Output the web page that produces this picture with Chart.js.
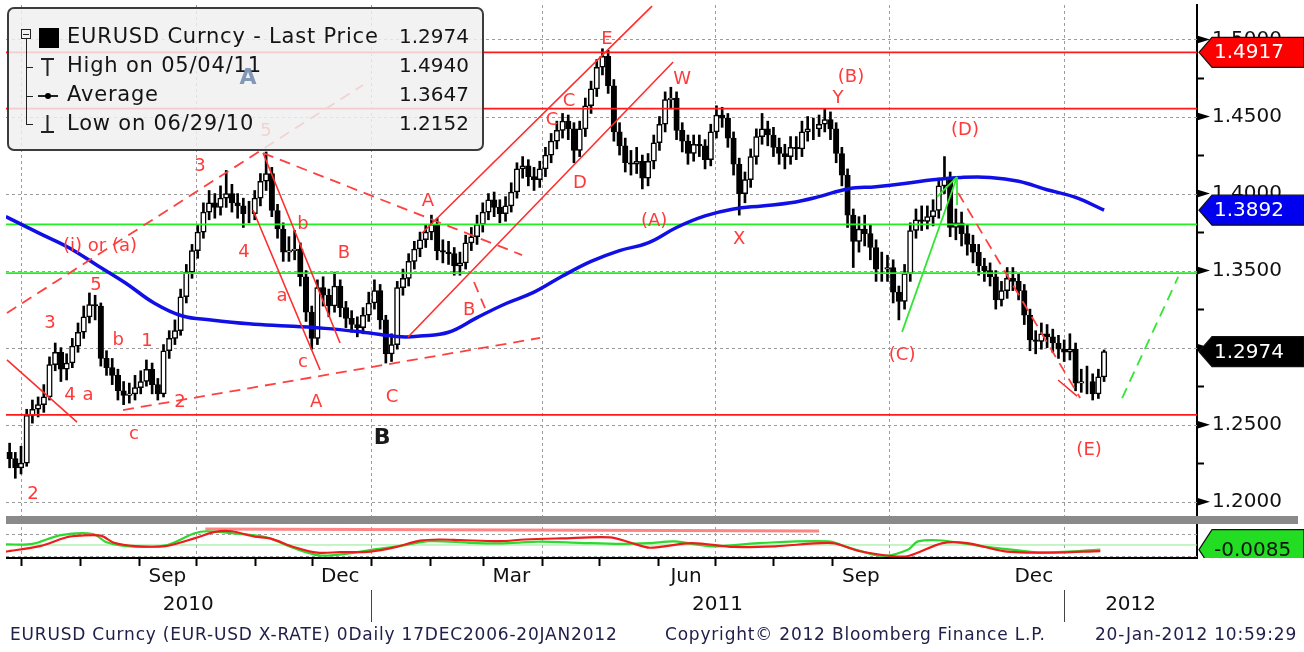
<!DOCTYPE html>
<html>
<head>
<meta charset="utf-8">
<script src="https://cdn.jsdelivr.net/npm/chart.js@4/dist/chart.umd.min.js"></script>
<style>
  html, body { margin: 0; padding: 0; background: #fff; }
  canvas { display: block; }
</style>
</head>
<body>
<canvas id="chart" width="1304" height="652"></canvas>
<script>
// EURUSD daily, one bar every 3 days
const firstBarDate = '2010-06-25';
const barStepDays = 3;
const firstOpen = 1.232;
const closes = [
  1.228, 1.222, 1.225, 1.256, 1.260, 1.263, 1.268, 1.289, 1.297, 1.286,
  1.290, 1.301, 1.310, 1.320, 1.328, 1.327, 1.293, 1.287, 1.282, 1.272,
  1.269, 1.270, 1.274, 1.278, 1.286, 1.276, 1.270, 1.298, 1.306, 1.311,
  1.333, 1.349, 1.363, 1.375, 1.388, 1.394, 1.391, 1.397, 1.400, 1.394,
  1.392, 1.387, 1.387, 1.397, 1.408, 1.413, 1.389, 1.377, 1.362, 1.363,
  1.364, 1.346, 1.323, 1.306, 1.339, 1.334, 1.327, 1.340, 1.326, 1.319,
  1.315, 1.313, 1.321, 1.329, 1.337, 1.318, 1.296, 1.302, 1.339, 1.345,
  1.356, 1.364, 1.370, 1.375, 1.380, 1.363, 1.362, 1.361, 1.353, 1.355,
  1.368, 1.372, 1.380, 1.388, 1.396, 1.391, 1.387, 1.392, 1.401, 1.416,
  1.418, 1.411, 1.409, 1.416, 1.425, 1.434, 1.441, 1.447, 1.442, 1.428,
  1.442, 1.457, 1.468, 1.482, 1.489, 1.470, 1.440, 1.431, 1.420, 1.419,
  1.421, 1.410, 1.421, 1.433, 1.445, 1.461, 1.462, 1.441, 1.434, 1.426,
  1.432, 1.431, 1.422, 1.440, 1.451, 1.449, 1.436, 1.419, 1.400, 1.409,
  1.424, 1.437, 1.442, 1.438, 1.430, 1.426, 1.424, 1.430, 1.429, 1.440,
  1.442, 1.442, 1.445, 1.448, 1.442, 1.426, 1.412, 1.386, 1.369, 1.377,
  1.374, 1.365, 1.351, 1.351, 1.352, 1.336, 1.330, 1.348, 1.376, 1.383,
  1.382, 1.385, 1.389, 1.405, 1.410, 1.378, 1.381, 1.374, 1.367, 1.362,
  1.353, 1.350, 1.346, 1.331, 1.337, 1.345, 1.343, 1.337, 1.321, 1.305,
  1.304, 1.309, 1.307, 1.303, 1.299, 1.297, 1.299, 1.277, 1.278, 1.278,
  1.270, 1.281, 1.2974
];
const highs = [
  1.238, 1.232, 1.236, 1.260, 1.266, 1.268, 1.276, 1.294, 1.303, 1.300,
  1.296, 1.306, 1.316, 1.327, 1.3355, 1.334, 1.329, 1.298, 1.293, 1.286,
  1.278, 1.277, 1.282, 1.285, 1.292, 1.290, 1.280, 1.302, 1.311, 1.318,
  1.338, 1.354, 1.367, 1.380, 1.394, 1.402, 1.400, 1.405, 1.415, 1.406,
  1.400, 1.397, 1.395, 1.402, 1.413, 1.427, 1.417, 1.393, 1.381, 1.372,
  1.376, 1.368, 1.350, 1.327, 1.344, 1.346, 1.338, 1.349, 1.344, 1.330,
  1.324, 1.320, 1.326, 1.336, 1.344, 1.341, 1.321, 1.309, 1.343, 1.351,
  1.361, 1.369, 1.375, 1.380, 1.386, 1.384, 1.370, 1.369, 1.365, 1.362,
  1.373, 1.378, 1.386, 1.394, 1.400, 1.401, 1.396, 1.398, 1.407, 1.420,
  1.424, 1.422, 1.417, 1.421, 1.430, 1.439, 1.447, 1.452, 1.451, 1.446,
  1.447, 1.462, 1.473, 1.487, 1.494, 1.493, 1.474, 1.446, 1.436, 1.428,
  1.430, 1.425, 1.426, 1.438, 1.450, 1.466, 1.469, 1.466, 1.446, 1.438,
  1.438, 1.438, 1.435, 1.445, 1.457, 1.456, 1.452, 1.440, 1.423, 1.414,
  1.429, 1.442, 1.452, 1.447, 1.443, 1.436, 1.432, 1.437, 1.437, 1.447,
  1.450, 1.449, 1.451, 1.455, 1.453, 1.446, 1.430, 1.416, 1.390, 1.385,
  1.386, 1.380, 1.370, 1.362, 1.360, 1.357, 1.340, 1.354, 1.381, 1.390,
  1.392, 1.392, 1.396, 1.410, 1.424, 1.414, 1.390, 1.388, 1.380, 1.373,
  1.367, 1.358, 1.355, 1.350, 1.343, 1.352, 1.352, 1.348, 1.341, 1.325,
  1.311, 1.316, 1.315, 1.312, 1.308, 1.305, 1.309, 1.303, 1.286, 1.288,
  1.283, 1.286, 1.2985
];
const lows = [
  1.222, 1.2152, 1.218, 1.223, 1.251, 1.255, 1.258, 1.266, 1.285, 1.278,
  1.279, 1.287, 1.297, 1.306, 1.316, 1.318, 1.288, 1.282, 1.276, 1.266,
  1.263, 1.264, 1.266, 1.270, 1.275, 1.270, 1.266, 1.268, 1.293, 1.302,
  1.308, 1.329, 1.345, 1.358, 1.371, 1.383, 1.384, 1.386, 1.391, 1.388,
  1.384, 1.378, 1.381, 1.383, 1.392, 1.402, 1.385, 1.371, 1.356, 1.356,
  1.357, 1.340, 1.317, 1.299, 1.302, 1.327, 1.320, 1.323, 1.320, 1.313,
  1.310, 1.307, 1.309, 1.317, 1.325, 1.312, 1.290, 1.291, 1.299, 1.334,
  1.340, 1.351, 1.359, 1.365, 1.370, 1.357, 1.355, 1.354, 1.347, 1.347,
  1.351, 1.363, 1.367, 1.375, 1.383, 1.385, 1.381, 1.382, 1.388, 1.397,
  1.410, 1.405, 1.402, 1.404, 1.411, 1.420, 1.429, 1.436, 1.435, 1.420,
  1.424, 1.437, 1.452, 1.463, 1.477, 1.465, 1.434, 1.425, 1.414, 1.412,
  1.413, 1.403, 1.405, 1.416, 1.428, 1.440, 1.455, 1.435, 1.427, 1.419,
  1.421, 1.424, 1.416, 1.418, 1.436, 1.443, 1.430, 1.412, 1.386, 1.394,
  1.404, 1.419, 1.432, 1.431, 1.424, 1.419, 1.416, 1.419, 1.422, 1.424,
  1.434, 1.435, 1.437, 1.440, 1.435, 1.420, 1.405, 1.378, 1.352, 1.362,
  1.366, 1.357, 1.343, 1.343, 1.343, 1.329, 1.318, 1.325, 1.343, 1.371,
  1.376, 1.377, 1.379, 1.384, 1.400, 1.372, 1.370, 1.366, 1.360, 1.355,
  1.347, 1.343, 1.340, 1.325, 1.327, 1.332, 1.337, 1.331, 1.315, 1.298,
  1.296, 1.299, 1.300, 1.297, 1.293, 1.291, 1.292, 1.272, 1.271, 1.270,
  1.266, 1.267, 1.278
];

// moving average (blue), days since 1 Jul 2010
const maDays = [-8, 10, 25, 40, 55, 70, 85, 100, 120, 140, 160, 180, 200, 210, 225, 240, 255, 270, 285,
  300, 315, 330, 345, 360, 375, 390, 405, 420, 435, 450, 465, 480, 495, 510, 525, 540, 555, 570];
const maVals = [1.385, 1.374, 1.365, 1.3535, 1.342, 1.329, 1.3205, 1.318, 1.3155, 1.314, 1.3125, 1.310, 1.307,
  1.3075, 1.310, 1.3195, 1.3285, 1.336, 1.3465, 1.356, 1.363, 1.368, 1.378, 1.3855, 1.390, 1.392, 1.394,
  1.398, 1.403, 1.4045, 1.4065, 1.409, 1.4105, 1.4105, 1.408, 1.4025, 1.3975, 1.3892];

// lower study panel
const indRedDays = [-8, 10, 24, 31, 42, 49, 60, 76, 92, 102, 111, 123, 131, 144, 156, 168, 184, 197, 210, 221,
  231, 252, 265, 284, 310, 321, 331, 353, 375, 397, 427, 441, 458, 467, 485, 498, 517, 539, 568];
const indRed = [-0.012, -0.002, 0.014, 0.017, 0.017, 0.004, -0.002, -0.002, 0.013, 0.024, 0.025, 0.015, 0.012,
  -0.004, -0.014, -0.013, -0.012, -0.004, 0.008, 0.010, 0.009, 0.007, 0.010, 0.012, 0.014, 0.004, -0.005,
  0.0035, -0.0035, -0.0024, 0.0035, -0.011, -0.020, -0.020, 0.0035, 0.0035, -0.011, -0.014, -0.011];
const indGreenDays = [-8, 6, 21, 38, 45, 59, 77, 91, 98, 112, 129, 143, 157, 171, 186, 199, 215, 236, 252, 273,
  294, 315, 331, 344, 364, 388, 425, 436, 454, 467, 472, 485, 506, 528, 537, 568];
const indGreen = [0.001, 0.002, 0.018, 0.020, 0.005, -0.003, 0.000, 0.021, 0.025, 0.021, 0.014, -0.005, -0.019,
  -0.016, -0.008, -0.002, 0.007, 0.004, 0.003, 0.006, 0.004, 0.002, 0.0035, 0.0065, -0.0024, 0.0035, 0.0065,
  -0.0053, -0.020, -0.008, 0.0065, 0.0082, -0.0024, -0.011, -0.014, -0.0085];
const indTrendDays = [97, 420];
const indTrendVals = [0.029, 0.0255];
const indGuides = [0.02, -0.02];

const redLevels = [1.4917, 1.4551, 1.2563];
const greenLevels = [1.3800, 1.3483];
const yTicks = [1.20, 1.25, 1.30, 1.35, 1.40, 1.45, 1.50];

const quarterDates = ['2010-07-01', '2010-10-01', '2011-01-01', '2011-04-01', '2011-07-01', '2011-10-01', '2012-01-01'];
const monthLabels = ['Sep', 'Dec', 'Mar', 'Jun', 'Sep', 'Dec'];
const monthLabelDates = ['2010-09-16', '2010-12-16', '2011-03-16', '2011-06-16', '2011-09-16', '2011-12-16'];
const yearLabels = ['2010', '2011', '2012'];
const yearStarts = ['2011-01-01', '2012-01-01'];

const legendRows = [
  ['EURUSD Curncy - Last Price', '1.2974'],
  ['High on 05/04/11', '1.4940'],
  ['Average', '1.3647'],
  ['Low on 06/29/10', '1.2152']
];

// hand drawn wave count: [day1, price1, day2, price2]
const solidRed = [[-7.4, 1.2920, 29.5, 1.2517], [127.4, 1.4263, 167.9, 1.3030], [122.1, 1.3893, 157.4, 1.2855],
  [211.1, 1.3744, 332.1, 1.5217], [203.7, 1.3069, 343.2, 1.4854], [545.8, 1.2790, 555.8, 1.2686]];
const dashedRed = [[-7.4, 1.3225, 180, 1.4705], [127.4, 1.4263, 263.7, 1.3601], [53.7, 1.2595, 273.2, 1.3063],
  [238.4, 1.3426, 244.2, 1.3257], [493.2, 1.4004, 557.4, 1.2673]];
const solidGreen = [[463.7, 1.3102, 492.6, 1.4108], [482.1, 1.3978, 492.6, 1.4108], [492.6, 1.4108, 492.6, 1.3926]];
const dashedGreen = [[579.5, 1.2673, 609, 1.3459]];
const waveLabels = [
  ['2', 6.3, 1.2050], ['3', 15.3, 1.3160], ['4', 25.8, 1.2693], ['a', 35.3, 1.2693], ['5', 39.5, 1.3407],
  ['b', 51.1, 1.3050], ['1', 66.3, 1.3043], ['c', 59.5, 1.2439], ['2', 83.7, 1.2647], ['(i) or (a)', 41.6, 1.3660],
  ['3', 94.2, 1.4179], ['4', 117.4, 1.3621], ['5', 128.9, 1.4406], ['b', 148.4, 1.3802], ['a', 137.4, 1.3335],
  ['c', 148.4, 1.2907], ['B', 170, 1.3614], ['A', 155.3, 1.2647], ['C', 195.3, 1.2680], ['A', 214.2, 1.3952],
  ['B', 235.8, 1.3244], ['C', 279.5, 1.4478], ['C', 288.4, 1.4601], ['D', 294.2, 1.4069], ['E', 308.4, 1.5003],
  ['W', 347.9, 1.4744], ['(A)', 333.2, 1.3822], ['X', 377.9, 1.3705], ['(B)', 436.8, 1.4757], ['Y', 430, 1.4620],
  ['(D)', 496.8, 1.4413], ['(C)', 463.7, 1.2952], ['(E)', 562.1, 1.2336]
];
const bigLabel = ['B', 190, 1.2413];
const ghostLabel = ['A', 119.5, 1.4750];

const F = '"DejaVu Sans", sans-serif';
const DAY0 = Date.UTC(2010, 6, 1);
const dayOf = s => { const [yy, mm, dd] = s.split('-').map(Number); return (Date.UTC(yy, mm - 1, dd) - DAY0) / 864e5; };
const X_MIN = -7.9, X_MAX = 618.9;

const startDay = dayOf(firstBarDate);
const barDays = closes.map((_, i) => startDay + i * barStepDays);
const opens = closes.map((c, i) => (i ? closes[i - 1] : firstOpen));
const wickData = closes.map((_, i) => ({ x: barDays[i], y: [lows[i], highs[i]] }));
const bodyData = closes.map((c, i) => ({ x: barDays[i], y: [Math.min(opens[i], c), Math.max(opens[i], c)] }));
const bodyFill = closes.map((c, i) => (c < opens[i] ? '#000' : '#fff'));
const pts = (xs, ys) => xs.map((d, i) => ({ x: d, y: ys[i] }));
const hline = (v, color, w, axis) => ({
  type: 'line', data: [{ x: X_MIN, y: v }, { x: X_MAX, y: v }], borderColor: color, borderWidth: w,
  pointRadius: 0, yAxisID: axis, order: 3
});
const fixAxis = s => { s.width = 107; s.paddingTop = 0; s.paddingBottom = 0; };

function tag(ctx, y, fill, color, text, h) {
  ctx.beginPath();
  ctx.moveTo(1199, y); ctx.lineTo(1212, y - h / 2); ctx.lineTo(1304, y - h / 2);
  ctx.lineTo(1304, y + h / 2); ctx.lineTo(1212, y + h / 2); ctx.closePath();
  ctx.fillStyle = fill; ctx.fill();
  ctx.strokeStyle = '#111'; ctx.lineWidth = 1.2; ctx.stroke();
  ctx.fillStyle = color; ctx.font = '20px ' + F; ctx.textAlign = 'left'; ctx.textBaseline = 'middle';
  ctx.fillText(text, 1214, y + 1);
}

function drawLegend(ctx) {
  ctx.save();
  ctx.beginPath(); ctx.roundRect(8, 8, 475, 142, 6);
  ctx.fillStyle = 'rgba(240,240,240,0.84)'; ctx.fill();
  ctx.lineWidth = 2; ctx.strokeStyle = '#3c3c3c'; ctx.stroke();
  ctx.strokeStyle = '#222'; ctx.lineWidth = 1;
  ctx.strokeRect(21.5, 29.5, 9, 9);
  ctx.beginPath();
  ctx.moveTo(23, 34.5); ctx.lineTo(29, 34.5);
  ctx.moveTo(26.5, 39); ctx.lineTo(26.5, 124);
  [67, 96, 124].forEach(r => { ctx.moveTo(26, r + 0.5); ctx.lineTo(33, r + 0.5); });
  ctx.stroke();
  ctx.fillStyle = '#000'; ctx.fillRect(39, 28, 20, 20);
  ctx.lineWidth = 2; ctx.beginPath();
  ctx.moveTo(41, 59); ctx.lineTo(54, 59); ctx.moveTo(47.5, 59); ctx.lineTo(47.5, 76);
  ctx.moveTo(38, 96); ctx.lineTo(58, 96);
  ctx.moveTo(47.5, 115); ctx.lineTo(47.5, 132); ctx.moveTo(41, 132); ctx.lineTo(54, 132);
  ctx.stroke();
  ctx.beginPath(); ctx.arc(48, 96, 3, 0, 2 * Math.PI); ctx.fill();
  ctx.fillStyle = '#141414'; ctx.textBaseline = 'middle';
  legendRows.forEach(([t, v], i) => {
    const yy = 38 + i * 29;
    ctx.letterSpacing = '0.8px';
    ctx.font = '21px ' + F; ctx.textAlign = 'left'; ctx.fillText(t, 67, yy);
    ctx.letterSpacing = '0px';
    ctx.font = '20px ' + F; ctx.textAlign = 'right'; ctx.fillText(v, 469, yy);
  });
  ctx.restore();
}

const bloomberg = {
  id: 'bloomberg',
  beforeDatasetsDraw(chart) {
    const { ctx, chartArea: a, scales: { x, y, y2 } } = chart;
    ctx.save();
    ctx.strokeStyle = '#9b9b9b'; ctx.lineWidth = 1; ctx.setLineDash([3, 3]);
    ctx.beginPath();
    yTicks.forEach(v => { const yy = Math.round(y.getPixelForValue(v)) + 0.5; ctx.moveTo(a.left, yy); ctx.lineTo(a.right, yy); });
    indGuides.forEach(v => { const yy = Math.round(y2.getPixelForValue(v)) + 0.5; ctx.moveTo(a.left, yy); ctx.lineTo(a.right, yy); });
    quarterDates.forEach(s => { const xx = Math.round(x.getPixelForValue(dayOf(s))) + 0.5; ctx.moveTo(xx, a.top); ctx.lineTo(xx, a.bottom); });
    ctx.stroke();
    ctx.restore();
  },
  afterDatasetsDraw(chart) {
    const { ctx, chartArea: a, scales: { x, y } } = chart;
    ctx.save();
    ctx.beginPath(); ctx.rect(a.left, a.top, a.right - a.left, y.bottom - 8 - a.top); ctx.clip();
    const seg = (list, color, dash, w) => {
      ctx.strokeStyle = color; ctx.lineWidth = w; ctx.setLineDash(dash);
      ctx.beginPath();
      list.forEach(([d1, p1, d2, p2]) => {
        ctx.moveTo(x.getPixelForValue(d1), y.getPixelForValue(p1));
        ctx.lineTo(x.getPixelForValue(d2), y.getPixelForValue(p2));
      });
      ctx.stroke();
    };
    seg(solidRed, '#ff2e2e', [], 1.6);
    seg(dashedRed, '#ff4040', [11, 7], 1.8);
    seg(solidGreen, '#33e633', [], 1.8);
    seg(dashedGreen, '#33e633', [11, 7], 1.8);
    ctx.setLineDash([]);
    ctx.textAlign = 'center'; ctx.textBaseline = 'middle';
    ctx.font = '18px ' + F; ctx.fillStyle = '#ff3a3a';
    waveLabels.forEach(([t, d, p]) => ctx.fillText(t, x.getPixelForValue(d), y.getPixelForValue(p)));
    ctx.font = 'bold 22px ' + F; ctx.fillStyle = '#1a1a1a';
    ctx.fillText(bigLabel[0], x.getPixelForValue(bigLabel[1]), y.getPixelForValue(bigLabel[2]));
    ctx.restore();

    drawLegend(ctx);

    ctx.save();
    ctx.font = 'bold 22px ' + F; ctx.fillStyle = 'rgba(110,135,170,0.85)';
    ctx.textAlign = 'center'; ctx.textBaseline = 'middle';
    ctx.fillText(ghostLabel[0], x.getPixelForValue(ghostLabel[1]), y.getPixelForValue(ghostLabel[2]));
    // panel separator
    ctx.fillStyle = '#8a8a8a';
    ctx.fillRect(a.left, y.bottom - 8, 1298 - a.left, 8);
    ctx.restore();
  },
  afterDraw(chart) {
    const { ctx, chartArea: a, scales: { x, y, y2 } } = chart;
    ctx.save();
    // right axis marks
    ctx.fillStyle = '#000'; ctx.strokeStyle = '#000'; ctx.lineWidth = 2;
    yTicks.forEach((v, i) => {
      const yy = y.getPixelForValue(v);
      ctx.beginPath(); ctx.moveTo(a.right, yy - 4); ctx.lineTo(a.right + 13, yy); ctx.lineTo(a.right, yy + 4); ctx.closePath(); ctx.fill();
      if (i < yTicks.length - 1) {
        const ym = Math.round(y.getPixelForValue((v + yTicks[i + 1]) / 2)) + 0.5;
        ctx.beginPath(); ctx.moveTo(a.right, ym); ctx.lineTo(a.right + 7, ym); ctx.stroke();
      }
    });
    // time axis
    ctx.beginPath(); ctx.moveTo(a.left, a.bottom); ctx.lineTo(a.right, a.bottom); ctx.stroke();
    ctx.beginPath();
    for (let m = 6; m <= 20; m++) {
      const d = (Date.UTC(2010, m, 1) - DAY0) / 864e5;
      const xx = Math.round(x.getPixelForValue(d)) + 0.5;
      if (xx >= a.left && xx <= a.right) { ctx.moveTo(xx, a.bottom); ctx.lineTo(xx, a.bottom + 8); }
    }
    ctx.stroke();
    ctx.fillStyle = '#111'; ctx.font = '20px ' + F; ctx.textAlign = 'center'; ctx.textBaseline = 'middle';
    monthLabels.forEach((t, i) => ctx.fillText(t, x.getPixelForValue(dayOf(monthLabelDates[i])), 577));
    const bounds = [a.left, ...yearStarts.map(s => x.getPixelForValue(dayOf(s))), a.right];
    yearLabels.forEach((t, i) => ctx.fillText(t, (bounds[i] + bounds[i + 1]) / 2, 605));
    ctx.strokeStyle = '#444'; ctx.lineWidth = 1;
    ctx.beginPath();
    yearStarts.forEach(s => { const xx = Math.round(x.getPixelForValue(dayOf(s))) + 0.5; ctx.moveTo(xx, 590); ctx.lineTo(xx, 622); });
    ctx.stroke();
    // last value tags
    tag(ctx, y.getPixelForValue(redLevels[0]), '#ff0000', '#fff', redLevels[0].toFixed(4), 30);
    tag(ctx, y.getPixelForValue(maVals[maVals.length - 1]), '#0000ee', '#fff', maVals[maVals.length - 1].toFixed(4), 30);
    tag(ctx, y.getPixelForValue(closes[closes.length - 1]), '#000', '#fff', closes[closes.length - 1].toFixed(4), 30);
    ctx.save();
    ctx.beginPath(); ctx.rect(a.right, y2.top + 4, 1304 - a.right, y2.bottom - y2.top - 4); ctx.clip();
    tag(ctx, y2.getPixelForValue(indGreen[indGreen.length - 1]), '#22dd22', '#111', indGreen[indGreen.length - 1].toFixed(4), 40);
    ctx.restore();
    // footer
    ctx.fillStyle = '#20204a'; ctx.font = '17px ' + F; ctx.textBaseline = 'middle';
    ctx.letterSpacing = '0.8px';
    ctx.textAlign = 'left';
    ctx.fillText('EURUSD Curncy (EUR-USD X-RATE) 0Daily 17DEC2006-20JAN2012', 10, 636);
    ctx.fillText('Copyright\u00a9 2012 Bloomberg Finance L.P.', 665, 636);
    ctx.textAlign = 'right';
    ctx.fillText('20-Jan-2012 10:59:29', 1297, 636);
    ctx.letterSpacing = '0px';
    ctx.restore();
  }
};

new Chart(document.getElementById('chart'), {
  type: 'line',
  data: {
    datasets: [
      { type: 'line', data: pts(indRedDays, indRed), borderColor: '#ee1c1c', borderWidth: 2.2, pointRadius: 0, tension: 0.3, yAxisID: 'y2', order: 1 },
      { type: 'line', data: pts(indGreenDays, indGreen), borderColor: '#2fd82f', borderWidth: 2.2, pointRadius: 0, tension: 0.3, yAxisID: 'y2', order: 1 },
      { type: 'line', data: pts(indTrendDays, indTrendVals), borderColor: 'rgba(255,110,110,0.85)', borderWidth: 3, pointRadius: 0, yAxisID: 'y2', order: 1 },
      hline(0, '#8ee88e', 1, 'y2'),
      { type: 'line', data: pts(maDays, maVals), borderColor: '#1010e6', borderWidth: 3.5, pointRadius: 0, tension: 0.4, yAxisID: 'y', order: 2 },
      ...redLevels.map(v => hline(v, '#ff1a1a', 1.8, 'y')),
      ...greenLevels.map(v => hline(v, '#22ee22', 1.8, 'y')),
      { type: 'bar', data: bodyData, backgroundColor: bodyFill, borderColor: '#000', borderWidth: 1.5,
        borderSkipped: false, barThickness: 5.5, grouped: false, yAxisID: 'y', order: 10 },
      { type: 'bar', data: wickData, backgroundColor: '#000', borderWidth: 0,
        barThickness: 2, grouped: false, yAxisID: 'y', order: 11 }
    ]
  },
  options: {
    responsive: false,
    animation: false,
    devicePixelRatio: 1,
    layout: { padding: { left: 6, top: 5, right: 0, bottom: 94 } },
    plugins: { legend: { display: false }, tooltip: { enabled: false } },
    scales: {
      x: { type: 'linear', min: X_MIN, max: X_MAX, offset: false, display: false },
      y: {
        type: 'linear', position: 'right', stack: 'panes', stackWeight: 519,
        min: 1.18553, max: 1.52239,
        afterBuildTicks: s => { s.ticks = yTicks.map(v => ({ value: v })); },
        afterFit: fixAxis,
        grid: { display: false, drawTicks: false },
        border: { display: true, color: '#000', width: 2 },
        ticks: { padding: 15, color: '#111', font: { family: 'DejaVu Sans', size: 20 }, callback: v => v.toFixed(4) }
      },
      y2: {
        type: 'linear', position: 'right', stack: 'panes', stackWeight: 34,
        min: -0.02364, max: 0.03818,
        afterFit: fixAxis,
        grid: { display: false, drawTicks: false },
        border: { display: true, color: '#000', width: 2 },
        ticks: { display: false }
      }
    }
  },
  plugins: [bloomberg]
});
</script>
</body>
</html>
